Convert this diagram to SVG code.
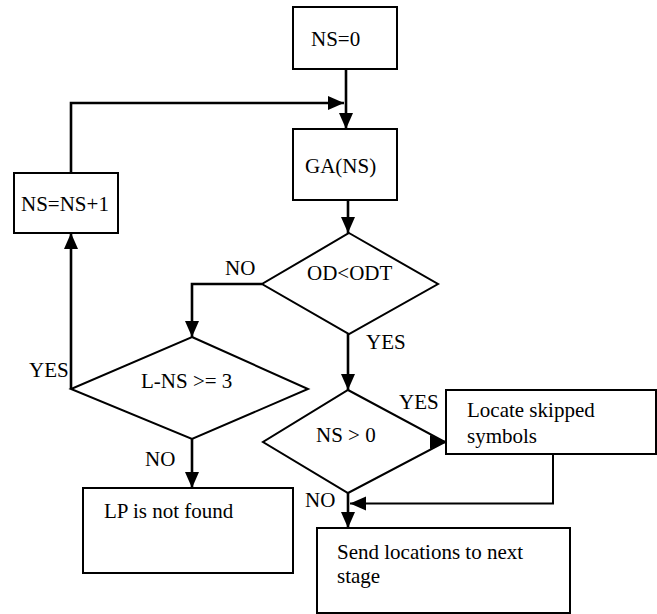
<svg xmlns="http://www.w3.org/2000/svg" width="657" height="614" viewBox="0 0 657 614">
<style>
.box{fill:#fff;stroke:#000;stroke-width:2}
.dia{fill:#fff;stroke:#000;stroke-width:2;stroke-linejoin:miter}
.t{font-family:'Liberation Serif','Times New Roman',Tinos,'DejaVu Serif',serif;font-size:21px;fill:#000}
.c{fill:none;stroke:#000;stroke-width:2.6}
.c2{fill:none;stroke:#000;stroke-width:2}
</style>
<defs>
<marker id="ah" markerUnits="userSpaceOnUse" markerWidth="16" markerHeight="14" refX="16" refY="7" orient="auto" overflow="visible">
<path d="M0,0 L16,7 L0,14 z" fill="#000"/>
</marker>
</defs>
<rect width="657" height="614" fill="#fff"/>
<g font-family="Liberation Serif, Times New Roman, DejaVu Serif, serif">
<g id="n-ns0"><rect class="box" x="293" y="7" width="104" height="62"/><text class="t" x="311" y="46">NS=0</text></g>
<g id="n-ga"><rect class="box" x="293" y="129" width="104" height="71"/><text class="t" x="305" y="173">GA(NS)</text></g>
<g id="n-inc"><rect class="box" x="14" y="173" width="104" height="60"/><text class="t" x="21" y="211">NS=NS+1</text></g>
<g id="n-od"><polygon class="dia" points="349,233 438,284 349,334 262,284"/><text class="t" x="307" y="280">OD&lt;ODT</text></g>
<g id="n-lns"><polygon class="dia" points="192,337 308,389 192,439 71,389"/><text class="t" x="141" y="388">L-NS &gt;= 3</text></g>
<g id="n-ns"><polygon class="dia" points="348,390 445,442 348,493 263,442"/><text class="t" x="316" y="442">NS &gt; 0</text></g>
<g id="n-locate"><rect class="box" x="446" y="390" width="210" height="64"/><text class="t" x="467" y="417">Locate skipped</text><text class="t" x="467" y="443">symbols</text></g>
<g id="n-lp"><rect class="box" x="83" y="488" width="210" height="85"/><text class="t" x="104" y="518">LP is not found</text></g>
<g id="n-send"><rect class="box" x="317" y="528" width="253" height="85"/><text class="t" x="337" y="559">Send locations to next</text><text class="t" x="337" y="583">stage</text></g>
<g id="connectors">
<path class="c" d="M346,69 V129" marker-end="url(#ah)"/>
<path class="c" d="M71,173 V103 H344" marker-end="url(#ah)"/>
<path class="c" d="M348,200 V233" marker-end="url(#ah)"/>
<path class="c" d="M262,284 H192 V337" marker-end="url(#ah)"/>
<path class="c" d="M348,334 V390" marker-end="url(#ah)"/>
<path class="c" d="M71,389 V233" marker-end="url(#ah)"/>
<path class="c" d="M192,439 V488" marker-end="url(#ah)"/>
<path class="c" d="M430,442 H446" marker-end="url(#ah)"/>
<path class="c" d="M348,493 V528" marker-end="url(#ah)"/>
<path class="c2" d="M553,454 V503.5 H350" marker-end="url(#ah)"/>
<text class="t" x="225" y="275">NO</text>
<text class="t" x="366" y="349">YES</text>
<text class="t" x="29" y="377">YES</text>
<text class="t" x="399" y="409">YES</text>
<text class="t" x="145" y="466">NO</text>
<text class="t" x="305" y="507">NO</text>
</g>
</g>
</svg>
